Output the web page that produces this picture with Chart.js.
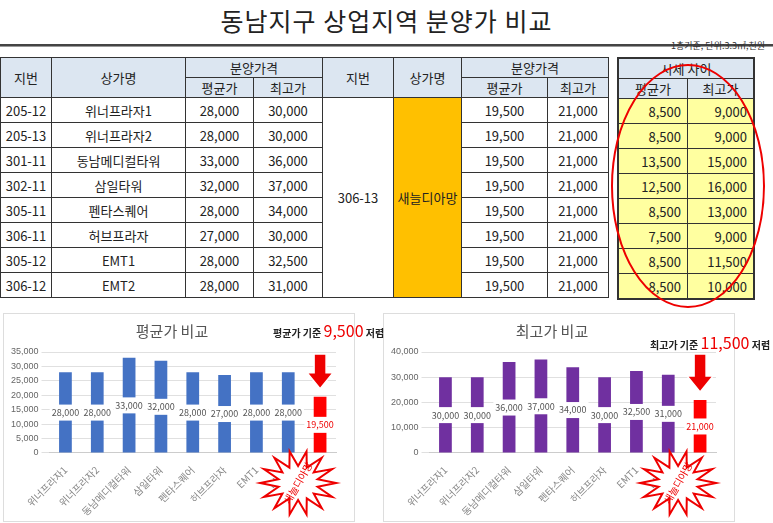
<!DOCTYPE html>
<html><head><meta charset="utf-8">
<script src="https://cdn.jsdelivr.net/npm/chart.js@4"></script>
<style>
body{margin:0;width:773px;height:523px;background:#fff;font-family:"Noto Sans CJK KR","Noto Sans",sans-serif;position:relative;overflow:hidden}
#title{position:absolute;top:2px;left:0;width:773px;text-align:center;font-size:25px;color:#222;letter-spacing:1px}
#rule{position:absolute;top:44px;left:0;width:773px;height:2px;background:#444;border-bottom:1px solid #999}
#note{position:absolute;top:39px;right:8px;font-size:9px;color:#333}
table{position:absolute;border-collapse:collapse;font-size:13px;color:#222}
td{border:1px solid #333;text-align:center;height:24px;padding:0}
.h td{background:#dce6f1;height:19px}
.y{background:#ffffa0}
.panel{position:absolute;top:313px;height:207px;border:1px solid #ddd;background:#fff}
.ann{position:absolute;font-size:10px;font-weight:bold;color:#222;white-space:nowrap}
.ann b{color:#e00;font-size:16px;font-weight:normal}
</style></head><body>
<div id="title">동남지구 상업지역 분양가 비교</div>
<div id="rule"></div>
<div id="note">1층기준, 단위:3.3㎡,천원</div>
<table id="t1" style="left:0;top:57px;width:609px"></table>
<table id="t2" style="left:617px;top:57px;width:138px;border:2px solid #333"></table>
<div class="panel" style="left:3px;width:350px"><canvas id="c1" width="350" height="207"></canvas></div>
<div class="panel" style="left:383px;width:350px"><canvas id="c2" width="350" height="207"></canvas></div>
<div class="ann" style="left:273px;top:318px">평균가 기준 <b>9,500</b> 저렴</div>
<div class="ann" style="left:650px;top:330px">최고가 기준 <b>11,500</b> 저렴</div>
<script>
const lots=["205-12","205-13","301-11","302-11","305-11","306-11","305-12","306-12"];
const names=["위너프라자1","위너프라자2","동남메디컬타워","삼일타워","펜타스퀘어","허브프라자","EMT1","EMT2"];
const avgPrice=[28000,28000,33000,32000,28000,27000,28000,28000];
const maxPrice=[30000,30000,36000,37000,34000,30000,32500,31000];
const targetLot="306-13", targetName="새늘디아망";
const targetAvg=19500, targetMax=21000;
const diffAvg=[8500,8500,13500,12500,8500,7500,8500,8500];
const diffMax=[9000,9000,15000,16000,13000,9000,11500,10000];
const f=v=>v.toLocaleString('en-US');

let h='<tr class="h"><td rowspan=2 style="width:50px">지번</td><td rowspan=2 style="width:133px">상가명</td><td colspan=2>분양가격</td><td rowspan=2 style="width:70px">지번</td><td rowspan=2 style="width:67px">상가명</td><td colspan=2>분양가격</td></tr><tr class="h"><td style="width:67px">평균가</td><td style="width:68px">최고가</td><td style="width:85px">평균가</td><td>최고가</td></tr>';
lots.forEach((l,i)=>{h+=`<tr><td>${l}</td><td>${names[i]}</td><td>${f(avgPrice[i])}</td><td>${f(maxPrice[i])}</td>`+
 (i==0?`<td rowspan=8>${targetLot}</td><td rowspan=8 style="background:#ffc000">${targetName}</td>`:'')+`<td>${f(targetAvg)}</td><td>${f(targetMax)}</td></tr>`;});
document.getElementById('t1').innerHTML=h;
let h2='<tr class="h"><td colspan=2>시세 차이</td></tr><tr class="h"><td class="y" style="width:68px">평균가</td><td class="y">최고가</td></tr>';
diffAvg.forEach((d,i)=>{h2+=`<tr><td class="y" style="text-align:right;padding-right:6px">${f(d)}</td><td class="y" style="text-align:right;padding-right:6px">${f(diffMax[i])}</td></tr>`;});
document.getElementById('t2').innerHTML=h2;

const deco={id:'deco',afterDatasetsDraw(ch){
 const c=ch.ctx,m=ch.getDatasetMeta(0),ds=ch.data.datasets[0],y=ch.scales.y;
 c.save();c.font='9px "Noto Sans CJK KR"';c.textAlign='center';c.textBaseline='middle';
 m.data.forEach((b,i)=>{const v=ds.data[i],ym=y.getPixelForValue(v/2);const t=f(v);
  const w=c.measureText(t).width+4;c.fillStyle='#fff';c.fillRect(b.x-w/2,ym-8,w,16);
  c.fillStyle=i==8?'#e00':'#555';c.fillText(t,b.x,ym);});
 const b=m.data[8],top=y.getPixelForValue(y.max)+2,bt=b.y-8;
 c.fillStyle='#e00';c.strokeStyle='#fff';c.lineWidth=1.5;c.beginPath();
 c.moveTo(b.x-6,top);c.lineTo(b.x+6,top);c.lineTo(b.x+6,bt-16);c.lineTo(b.x+13,bt-16);c.lineTo(b.x,bt);c.lineTo(b.x-13,bt-16);c.lineTo(b.x-6,bt-16);c.closePath();c.fill();c.stroke();
 const cx=b.x-22,cy=y.bottom+30,n=14;c.beginPath();
 for(let k=0;k<2*n;k++){const r=k%2?20:38,a=k*Math.PI/n;c.lineTo(cx+r*Math.cos(a),cy+r*0.85*Math.sin(a));}
 c.closePath();c.fillStyle='#fff';c.fill();c.strokeStyle='#e00';c.lineWidth=2;c.stroke();
 c.translate(cx,cy);c.rotate(-Math.PI/3);c.fillStyle='#e00';c.font='10px "Noto Sans CJK KR"';c.fillText(targetName,0,0);
 c.restore();}};
function mk(id,title,vals,tv,col,mx){
 new Chart(document.getElementById(id),{type:'bar',plugins:[deco],
 data:{labels:[...names,''],datasets:[{data:[...vals,tv],backgroundColor:[...vals.map(()=>col),'#ff0000'],barPercentage:0.4,categoryPercentage:1}]},
 options:{responsive:false,animation:false,layout:{padding:{right:18,left:4}},
  plugins:{legend:{display:false},tooltip:{enabled:false},title:{display:true,text:title,color:'#555',font:{size:15,family:'"Noto Sans CJK KR"',weight:'normal'},padding:{top:8,bottom:12}}},
  scales:{y:{min:0,max:mx,ticks:{stepSize:5000,color:'#666',font:{size:9},callback:v=>f(v)},grid:{color:'#e0e0e0'},border:{display:false}},
   x:{grid:{display:false},border:{color:'#ccc'},ticks:{color:'#888',font:{size:10,family:'"Noto Sans CJK KR"'},maxRotation:45,minRotation:45,autoSkip:false}}}}});}
mk('c1','평균가 비교',avgPrice,targetAvg,'#4472c4',35000);
mk('c2','최고가 비교',maxPrice,targetMax,'#7030a0',40000);
</script>
<svg style="position:absolute;left:0;top:0" width="773" height="523"><ellipse cx="688" cy="186" rx="76" ry="121" fill="none" stroke="#e00" stroke-width="2"/></svg>
</body></html>
